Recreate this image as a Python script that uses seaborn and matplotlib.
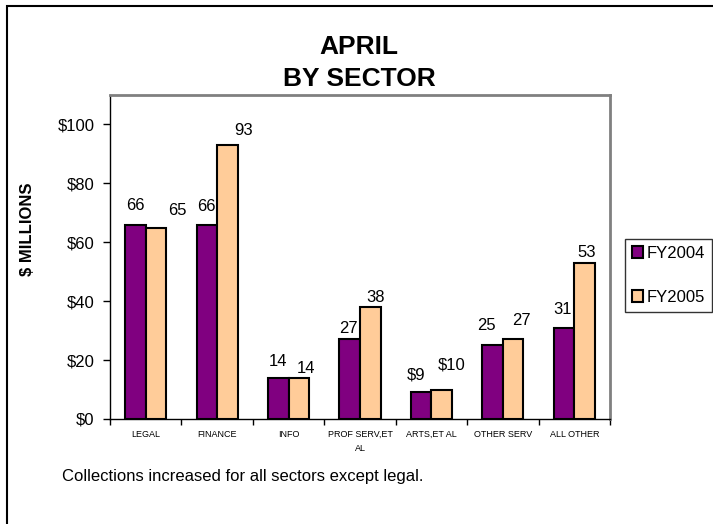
import matplotlib
matplotlib.use('Agg')
import matplotlib.pyplot as plt
from matplotlib.patches import Patch, Rectangle
import numpy as np
import pandas as pd
import seaborn as sns

sectors = ['LEGAL', 'FINANCE', 'INFO', 'PROF SERV,ET\nAL', 'ARTS,ET AL', 'OTHER SERV', 'ALL OTHER']
fy2004 = [66, 66, 14, 27, 9, 25, 31]
fy2005 = [65, 93, 14, 38, 10, 27, 53]
lab2004 = ['66', '66', '14', '27', '$9', '25', '31']
lab2005 = ['65', '93', '14', '38', '$10', '27', '53']
years = ['FY2004', 'FY2005']
colors = ['#800080', '#FFCC99']

# label nudges (pixels) to mimic the hand-placed labels
off2004 = [(0, 19), (0, 18), (0, 16), (-1, 11), (-5, 17), (-6, 20), (-1, 18)]
off2005 = [(21, 17), (16, 15), (7, 9), (5, 10), (10, 25), (8, 19), (2, 10)]

df = pd.DataFrame({
    'sector': sectors * 2,
    'value': fy2004 + fy2005,
    'year': [years[0]] * len(sectors) + [years[1]] * len(sectors),
})

sns.set_style('white')
plt.rcParams['font.family'] = ['Liberation Sans', 'DejaVu Sans']
plt.rcParams['text.color'] = 'black'
plt.rcParams['xtick.color'] = 'black'
plt.rcParams['ytick.color'] = 'black'

W, H = 713, 524
fig = plt.figure(figsize=(W / 100, H / 100), dpi=100)
ax = fig.add_axes([110 / W, 1 - 419 / H, 500 / W, 324 / H])

sns.barplot(data=df, x='sector', y='value', hue='year', order=sectors, hue_order=years,
            palette=colors, saturation=1, edgecolor='black', linewidth=1.5, width=0.575, gap=0,
            legend=False, ax=ax)

ax.set_ylim(0, 110)
ax.set_xlim(-0.5, len(sectors) - 0.5)
ax.set_yticks(np.arange(0, 101, 20))
ax.set_yticklabels([f'${v}' for v in range(0, 101, 20)], fontsize=12)
ax.tick_params(axis='y', direction='out', length=5, width=1, color='black', pad=6, left=True)
ax.set_xticks(range(len(sectors)))
ax.set_xticklabels(sectors, fontsize=6.5, linespacing=1.7)
ax.tick_params(axis='x', which='major', length=0, pad=8)
ax.set_xticks(np.arange(-0.5, len(sectors)), minor=True)
ax.tick_params(axis='x', which='minor', direction='out', length=4, width=1, color='black', bottom=True)
ax.set_xlabel('')
ax.set_ylabel('')

for side in ['left', 'bottom']:
    ax.spines[side].set_color('black')
    ax.spines[side].set_linewidth(1)
for side in ['top', 'right']:
    ax.spines[side].set_color('#808080')
    ax.spines[side].set_linewidth(2)

for cont, labs, offs in zip(ax.containers, [lab2004, lab2005], [off2004, off2005]):
    for bar, lab, (dx, dy) in zip(cont, labs, offs):
        x = bar.get_x() + bar.get_width() / 2
        y = bar.get_height()
        ax.annotate(lab, (x, y), xytext=(dx, dy), textcoords='offset pixels',
                    ha='center', va='center', fontsize=12)

fig.text(359 / W, 1 - 46.5 / H, 'APRIL', ha='center', va='center', fontsize=19, fontweight='bold')
fig.text(359 / W, 1 - 79.5 / H, 'BY SECTOR', ha='center', va='center', fontsize=19, fontweight='bold')
fig.text(28 / W, 1 - 229 / H, '$ MILLIONS', ha='center', va='center', rotation=90,
         fontsize=12, fontweight='bold')
fig.text(62 / W, 1 - 476 / H, 'Collections increased for all sectors except legal.',
         ha='left', va='center', fontsize=12)

handles = [Patch(facecolor=c, edgecolor='black', linewidth=1.5) for c in colors]
leg = fig.legend(handles, years, loc='upper left', bbox_to_anchor=(625 / W, 1 - 239 / H),
                 bbox_transform=fig.transFigure, fontsize=12, frameon=True, fancybox=False,
                 handlelength=0.7, handleheight=0.7, handletextpad=0.2, labelspacing=1.75,
                 borderpad=0.4, borderaxespad=0)
leg.get_frame().set_edgecolor('black')
leg.get_frame().set_linewidth(1)

fig.add_artist(Rectangle((7 / W, -0.1), 1.2, 1 - 6 / H + 0.1, transform=fig.transFigure,
                         fill=False, edgecolor='black', linewidth=1.5))

fig.savefig('out.png', dpi=100)
